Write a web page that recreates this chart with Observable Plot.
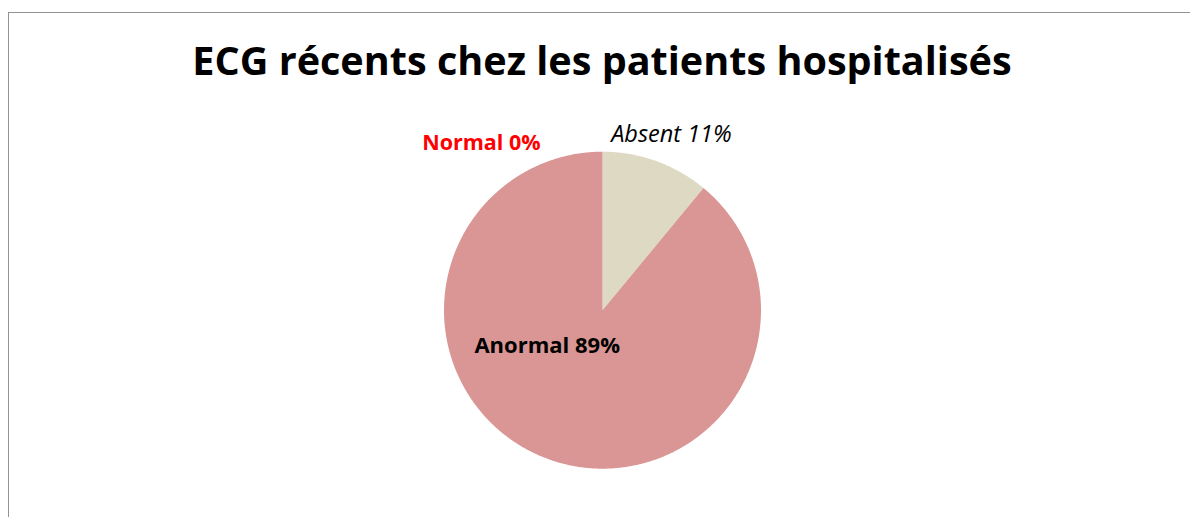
<!DOCTYPE html>
<html>
<head>
<meta charset="utf-8">
<script src="https://cdn.jsdelivr.net/npm/d3@7"></script>
<script src="https://cdn.jsdelivr.net/npm/@observablehq/plot@0.6"></script>
<style>
  html, body { margin: 0; padding: 0; background: #fff; overflow: hidden; width: 1190px; height: 517px; }
  #frame { position: absolute; left: 8px; top: 12px; width: 1400px; height: 700px; border-left: 1.5px solid #939393; border-top: 1.5px solid #939393; }
  #title { position: absolute; left: 0; top: 0; width: 1204px; height: 110px; text-align: center; font-family: "Open Sans", sans-serif; font-weight: 700; font-size: 39.6px; line-height: 39.6px; padding-top: 40.5px; box-sizing: border-box; color: #000; }
  #chart { position: absolute; left: 0; top: 110px; }
</style>
</head>
<body>
<div id="frame"></div>
<div id="title">ECG récents chez les patients hospitalisés</div>
<div id="chart"></div>
<script>
// Data
const categories = ["Absent", "Anormal", "Normal"];
const values = [11, 89, 0];
const percentLabels = ["11%", "89%", "0%"];
const sliceColors = ["#DDD9C3", "#D99694", "#D99694"];

// Build slice outlines from pie angles
const arcs = d3.pie().sort(null).value((d, i) => values[i])(categories);
const pts = [];
arcs.forEach((a, i) => {
  if (a.endAngle - a.startAngle <= 0) return;
  const cat = categories[i];
  pts.push({cat, x: 0, y: 0});
  const n = Math.max(2, Math.ceil((a.endAngle - a.startAngle) / (Math.PI / 360)));
  for (let k = 0; k <= n; k++) {
    const t = a.startAngle + (a.endAngle - a.startAngle) * k / n;
    pts.push({cat, x: Math.sin(t), y: Math.cos(t)});
  }
  pts.push({cat, x: 0, y: 0});
});

// label anchors (unit-circle coordinates, layout only)
const labelAnchor = {
  Absent: [0.435, 1.107],
  Normal: [-0.764, 1.057],
  Anormal: [-0.349, -0.223]
};
const lab = (c) => [{text: `${c} ${percentLabels[categories.indexOf(c)]}`, x: labelAnchor[c][0], y: labelAnchor[c][1]}];

const R = 158.5, cx = 602, cy = 199.7;
const chart = Plot.plot({
  width: 1190,
  height: 407,
  margin: 0,
  style: {background: "transparent", overflow: "visible"},
  x: {domain: [-1, 1], range: [cx - R, cx + R], axis: null},
  y: {domain: [-1, 1], range: [cy + R, cy - R], axis: null},
  color: {domain: categories, range: sliceColors},
  marks: [
    Plot.line(pts, {x: "x", y: "y", z: "cat", fill: "cat", stroke: "none", curve: "linear"}),
    Plot.text(lab("Absent"), {x: "x", y: "y", text: "text", fill: "#000", fontSize: 23.5, fontStyle: "italic", fontFamily: "Open Sans", textAnchor: "middle"}),
    Plot.text(lab("Normal"), {x: "x", y: "y", text: "text", fill: "#ff0000", fontSize: 21.5, fontWeight: "bold", fontFamily: "Open Sans", textAnchor: "middle"}),
    Plot.text(lab("Anormal"), {x: "x", y: "y", text: "text", fill: "#000", fontSize: 22, fontWeight: "bold", fontFamily: "Open Sans", textAnchor: "middle"})
  ]
});
document.getElementById("chart").appendChild(chart);
</script>
</body>
</html>
